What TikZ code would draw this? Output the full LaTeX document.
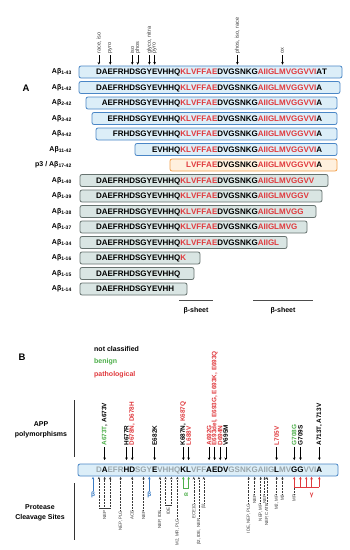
\documentclass[tikz,border=0pt]{standalone}
\usepackage{fontspec}
\setmainfont{Liberation Sans}
\newfontfamily\seqfont[Kerning=Off]{Liberation Sans}
\usepackage{xcolor}
\usetikzlibrary{arrows.meta, positioning}

\definecolor{seqred}{HTML}{E03A3E}
\definecolor{seqgray}{HTML}{9AA6AB}
\definecolor{benign}{HTML}{4DAF4A}
\definecolor{betablue}{HTML}{3B7CC4}
\definecolor{bluefill}{HTML}{DCEEF8}
\definecolor{blueline}{HTML}{4A86C6}
\definecolor{orangefill}{HTML}{FFF0DE}
\definecolor{orangeline}{HTML}{F3A04B}
\definecolor{grayfill}{HTML}{D9E5E3}
\definecolor{grayline}{HTML}{66726F}
\definecolor{textgray}{HTML}{3A3A3A}

\newcommand{\hl}[1]{\textcolor{seqred}{#1}}
\newcommand{\bn}[1]{\textcolor{benign}{#1}}

\begin{document}
\begin{tikzpicture}[
        x=1pt, y=-1pt,
        seq/.style={font=\seqfont\bfseries\fontsize{8}{9}\selectfont, inner sep=0pt, outer sep=0pt, text height=5.8pt, text depth=0pt},
        bluerow/.style={draw=blueline, fill=bluefill, line width=0.8pt, rounded corners=2pt},
        orangerow/.style={draw=orangeline, fill=orangefill, line width=0.8pt, rounded corners=2pt},
        grayrow/.style={draw=grayline, fill=grayfill, line width=0.8pt, rounded corners=2pt},
        rowlab/.style={anchor=east, inner sep=0pt, font=\bfseries\fontsize{7}{8}\selectfont},
        panel/.style={font=\bfseries\fontsize{9.5}{10}\selectfont},
        legendlab/.style={anchor=west, inner sep=0pt, font=\bfseries\fontsize{7}{8}\selectfont},
        sidelab/.style={align=center, font=\bfseries\fontsize{7}{10}\selectfont},
        modlab/.style={rotate=90, anchor=west, inner sep=0.5pt, text=textgray, font=\fontsize{5.5}{6}\selectfont},
        polylab/.style={rotate=90, anchor=west, inner sep=0.5pt, font=\bfseries\fontsize{6.4}{7}\selectfont},
        cutlab/.style={rotate=90, anchor=east, inner sep=0.4pt, text=textgray, font=\fontsize{4.4}{5}\selectfont},
        greeklab/.style={inner sep=0pt, font=\bfseries\fontsize{6.5}{7}\selectfont},
        downarrow/.style={-{Stealth[length=2.6pt, width=2.6pt]}, line width=0.5pt},
        cutarrow/.style={densely dotted, line width=0.45pt, -{Stealth[length=2.6pt, width=2.4pt]}, textgray},
        brline/.style={line width=0.45pt, textgray},
        sheetline/.style={line width=0.9pt, black!70},
        sidebar/.style={line width=0.7pt, black!80}
    ]

    \fill[white] (0,0) rectangle (349,550);
    \useasboundingbox (0,0) rectangle (349,550);

    % Panel A
    \node[panel] (pA) at (26,88) {A};

    % row boxes
    \foreach \ya/\xa/\xb/\sty in {72/79/342/bluerow, 87.5/79/340/bluerow, 103/86/337/bluerow,
        118.5/92/337/bluerow, 134/96/337/bluerow, 149.5/135/337/bluerow, 165/170/337/orangerow,
        180.5/80/328/grayrow, 196/80/322/grayrow, 211.5/80/316/grayrow, 227/80/307/grayrow,
        242.5/80/287/grayrow, 258/80/200/grayrow, 273.5/80/194/grayrow, 289/80/187/grayrow}
        \draw[\sty] (\xa,\ya-6) rectangle (\xb,\ya+6);

    % row labels
    \foreach \ya/\lab [count=\k] in {72/1-43, 87.5/1-42, 103/2-42, 118.5/3-42, 134/4-42, 149.5/11-42,
        180.5/1-40, 196/1-39, 211.5/1-38, 227/1-37, 242.5/1-34, 258/1-16, 273.5/1-15, 289/1-14}
        \node[rowlab] (lab\k) at (72,\ya) {Aβ\textsubscript{\lab}};
    \node[rowlab] (labp3) at (72,165) {p3 / Aβ\textsubscript{17-42}};

    % full length peptide, one node per residue
    \node[seq, anchor=west] (a1) at (96,72) {D};
    \foreach \c/\col [count=\i from 2] in {A/black,E/black,F/black,R/black,H/black,D/black,S/black,
        G/black,Y/black,E/black,V/black,H/black,H/black,Q/black,K/seqred,L/seqred,V/seqred,F/seqred,
        F/seqred,A/seqred,E/seqred,D/black,V/black,G/black,S/black,N/black,K/black,G/black,A/seqred,
        I/seqred,I/seqred,G/seqred,L/seqred,M/seqred,V/seqred,G/seqred,G/seqred,V/seqred,V/seqred,
        I/seqred,A/black,T/black}{
        \pgfmathtruncatemacro{\j}{\i-1}
        \node[seq, text=\col, right=0pt of a\j] (a\i) {\c};
    }

    % other species
    \node[seq, anchor=west] (s142) at (96,87.5) {DAEFRHDSGYEVHHQ\hl{KLVFFAE}DVGSNKG\hl{AIIGLMVGGVVI}A};
    \node[seq, anchor=east] (s242) at ([yshift=-15.5pt]s142.east) {AEFRHDSGYEVHHQ\hl{KLVFFAE}DVGSNKG\hl{AIIGLMVGGVVI}A};
    \node[seq, anchor=east] (s342) at ([yshift=-15.5pt]s242.east) {EFRHDSGYEVHHQ\hl{KLVFFAE}DVGSNKG\hl{AIIGLMVGGVVI}A};
    \node[seq, anchor=east] (s442) at ([yshift=-15.5pt]s342.east) {FRHDSGYEVHHQ\hl{KLVFFAE}DVGSNKG\hl{AIIGLMVGGVVI}A};
    \node[seq, anchor=east] (s1142) at ([yshift=-15.5pt]s442.east) {EVHHQ\hl{KLVFFAE}DVGSNKG\hl{AIIGLMVGGVVI}A};
    \node[seq, anchor=east] (sp3) at ([yshift=-15.5pt]s1142.east) {\hl{LVFFAE}DVGSNKG\hl{AIIGLMVGGVVI}A};
    \node[seq, anchor=west] (s140) at (96,180.5) {DAEFRHDSGYEVHHQ\hl{KLVFFAE}DVGSNKG\hl{AIIGLMVGGVV}};
    \node[seq, anchor=west] (s139) at (96,196) {DAEFRHDSGYEVHHQ\hl{KLVFFAE}DVGSNKG\hl{AIIGLMVGGV}};
    \node[seq, anchor=west] (s138) at (96,211.5) {DAEFRHDSGYEVHHQ\hl{KLVFFAE}DVGSNKG\hl{AIIGLMVGG}};
    \node[seq, anchor=west] (s137) at (96,227) {DAEFRHDSGYEVHHQ\hl{KLVFFAE}DVGSNKG\hl{AIIGLMVG}};
    \node[seq, anchor=west] (s134) at (96,242.5) {DAEFRHDSGYEVHHQ\hl{KLVFFAE}DVGSNKG\hl{AIIGL}};
    \node[seq, anchor=west] (s116) at (96,258) {DAEFRHDSGYEVHHQ\hl{K}};
    \node[seq, anchor=west] (s115) at (96,273.5) {DAEFRHDSGYEVHHQ};
    \node[seq, anchor=west] (s114) at (96,289) {DAEFRHDSGYEVHH};

    % modifications
    \coordinate (modbase) at (0,54);
    \foreach \i/\txt in {1/{race, iso}, 3/pyro, 7/iso, 8/phos, 10/{glyco, nitra}, 11/pyro,
        26/{phos, iso, race}, 35/ox}{
        \node[modlab] (m\i) at (a\i |- modbase) {\txt};
        \draw[downarrow, shorten <=1pt, shorten >=4.5pt] (m\i.west) -- (a\i.north);
    }

    % beta sheets
    \draw[sheetline] (179,300) -- (213,300);
    \draw[sheetline] (253,300) -- (313,300);
    \node[legendlab, anchor=center] (bs1) at (196,311) {β-sheet};
    \node[legendlab, anchor=center] (bs2) at (283,311) {β-sheet};

    % Panel B
    \node[panel] (pB) at (22,357) {B};
    \node[legendlab] (lnc) at (94,349) {not classified};
    \node[legendlab, text=benign] (lben) at (94,362) {benign};
    \node[legendlab, text=seqred] (lpat) at (94,375) {pathological};

    \node[sidelab] (app) at (41,430) {APP\\polymorphisms};
    \node[sidelab] (pcs) at (40,513) {Protease\\Cleavage Sites};
    \draw[sidebar] (74,400) -- (74,457);
    \draw[sidebar] (74,483) -- (74,540);

    \node[bluerow, minimum width=260pt, minimum height=12pt, inner sep=0pt] (seqB) at (208,470) {};
    \node[seq, text=seqgray, anchor=west] (r1) at (96,470) {D};
    \foreach \c/\col [count=\i from 2] in {A/black,E/seqgray,F/seqgray,R/seqgray,H/black,D/black,
        S/seqgray,G/seqgray,Y/seqgray,E/black,V/seqgray,H/seqgray,H/seqgray,Q/seqgray,K/black,L/black,
        V/seqgray,F/seqgray,F/seqgray,A/black,E/black,D/black,V/black,G/seqgray,S/seqgray,N/seqgray,
        K/seqgray,G/seqgray,A/seqgray,I/seqgray,I/seqgray,G/seqgray,L/black,M/seqgray,V/seqgray,
        G/black,G/black,V/seqgray,V/seqgray,I/seqgray,A/black}{
        \pgfmathtruncatemacro{\j}{\i-1}
        \node[seq, text=\col, right=0pt of r\j] (r\i) {\c};
    }

    % polymorphisms
    \coordinate (polybase) at (0,446);
    \foreach \i/\txt in {2/{\bn{A673T}, A673V}, 6/H677R, 7/{\hl{D678N, D678H}}, 11/E682K,
        16/{K687N, \hl{K687Q}}, 17/{\hl{L688V}}, 21/{\hl{A692G}}, 22/{\hl{E693del, E693G, E693K, E693Q}},
        23/{\hl{D694N}}, 24/V695M, 34/{\hl{L705V}}, 37/{\bn{G708G}}, 38/G709S, 42/{A713T, A713V}}{
        \node[polylab] (p\i) at (r\i |- polybase) {\txt};
        \draw[downarrow, shorten <=1pt, shorten >=3.5pt] (p\i.west) -- (r\i |- seqB.north);
    }

    % cleavage sites
    \coordinate (tier1) at (0,494);
    \coordinate (tier2) at (0,503);
    \coordinate (tier3) at (0,510);
    \coordinate (tier4) at (0,518);
    \coordinate (nepbr) at (0,508);
    \coordinate (idebr) at (0,505);
    \coordinate (idel) at (0,507);
    \coordinate (alphabr) at (0,488);
    \coordinate (gammabr) at (0,487);
    \coordinate (greekl) at (0,495);

    \foreach \i/\t/\txt in {5/3/{NEP, PLG}, 7/3/ACE, 9/3/NEP, 12/3/{NEP, IDE}, 15/4/{M2, MR, PLG},
        18/2/{ECE1/2}, 19/4/{β2, IDE, NEP}, 20/2/β2, 28/2/{IDE, NEP, PLG}, 29/1/NEP, 30/2/{NEP, MP},
        31/1/NEP, 32/2/{NEP, CATB}, 34/1/{M2, MP}, 35/1/M2}{
        \node[cutlab] (c\i) at (r\i |- tier\t) {\txt};
        \draw[cutarrow, shorten >=0.4pt] (c\i.east) -- (r\i |- seqB.south);
    }

    % NEP group
    \foreach \i in {1,2,3}
        \draw[cutarrow, shorten >=0.4pt] (r\i |- nepbr) -- (r\i |- seqB.south);
    \draw[brline] (r1 |- nepbr) -- (r3 |- nepbr);
    \node[cutlab] (cnep) at (r2 |- tier3) {NEP};

    % IDE group
    \foreach \i in {13,14}
        \draw[cutarrow, shorten >=0.4pt] (r\i |- idebr) -- (r\i |- seqB.south);
    \draw[brline] (r13 |- idebr) -- (r14 |- idebr);
    \path (r13) -- (r14) coordinate[midway] (idemid);
    \node[cutlab] (cide) at (idemid |- idel) {IDE};

    % beta sites
    \coordinate (b0) at ([xshift=-3pt]r1.west);
    \node[greeklab, text=betablue] (beta1) at (b0 |- greekl) {β};
    \node[greeklab, text=betablue] (beta2) at (r10 |- greekl) {β};
    \draw[-{Stealth[length=2.6pt, width=2.6pt]}, line width=0.7pt, betablue, shorten <=1pt, shorten >=0.4pt] (beta1.north) -- (b0 |- seqB.south);
    \draw[-{Stealth[length=2.6pt, width=2.6pt]}, line width=0.7pt, betablue, shorten <=1pt, shorten >=0.4pt] (beta2.north) -- (r10 |- seqB.south);

    % alpha site
    \foreach \i in {16,17}
        \draw[-{Stealth[length=2.6pt, width=2.6pt]}, line width=0.6pt, benign, shorten >=0.4pt] (r\i |- alphabr) -- (r\i |- seqB.south);
    \draw[line width=0.6pt, benign] (r16 |- alphabr) -- (r17 |- alphabr);
    \path (r16) -- (r17) coordinate[midway] (alphamid);
    \node[greeklab, text=benign] (alpha) at (alphamid |- greekl) {α};

    % gamma sites
    \foreach \i in {37,38,39,40,42}
        \draw[-{Stealth[length=2.6pt, width=2.6pt]}, line width=0.6pt, seqred, shorten >=0.4pt] (r\i |- gammabr) -- (r\i |- seqB.south);
    \draw[line width=0.6pt, seqred] (r37 |- gammabr) -- (r42 |- gammabr);
    \node[greeklab, text=seqred] (gamma) at (r40 |- greekl) {γ};
    \node[cutlab] (c37) at (r37 |- tier1) {MR};
    \draw[densely dotted, line width=0.45pt, textgray] (c37.east) -- (r37 |- gammabr);

\end{tikzpicture}
\end{document}
